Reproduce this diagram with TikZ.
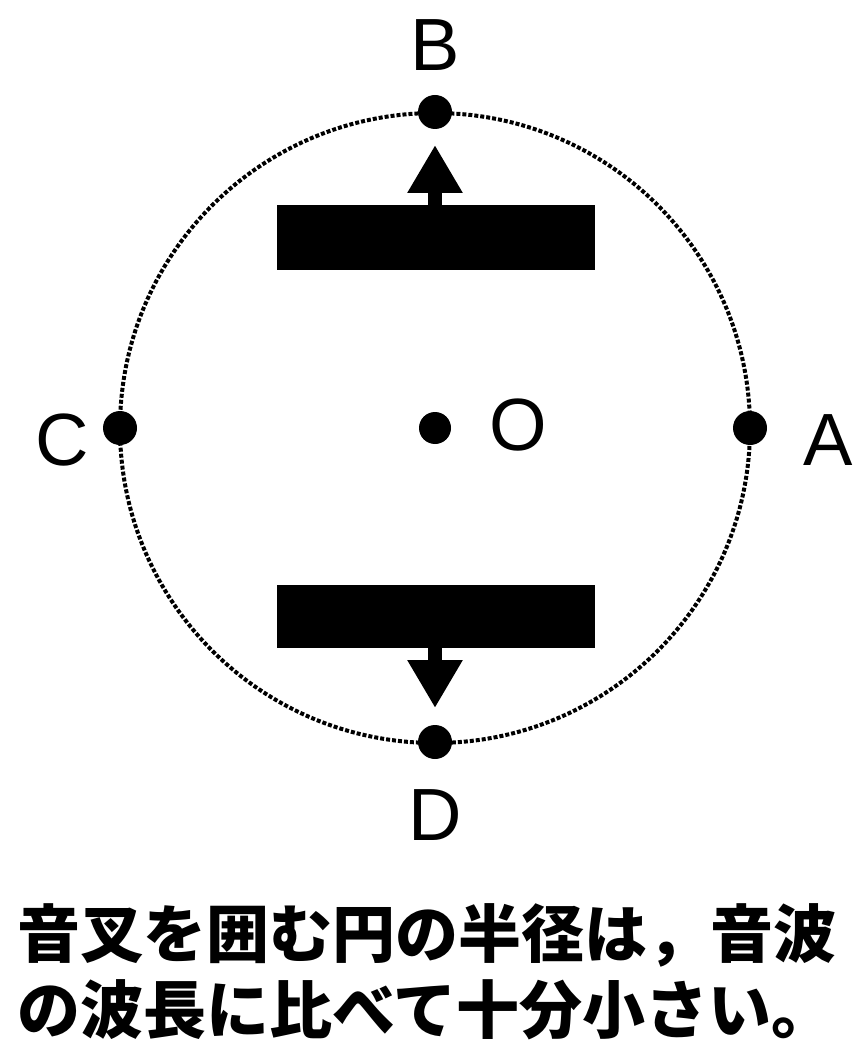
\documentclass[tikz,border=0pt]{standalone}
\usepackage{fontspec}
\setmainfont{Liberation Sans}
\newfontfamily\jpfont{Noto Sans CJK JP}
\usetikzlibrary{arrows.meta, positioning}
\tikzset{
  pt/.style={circle, fill=black, inner sep=0pt, minimum size=34pt},
  lbl/.style={font=\fontsize{74}{80}\selectfont},
  bar/.style={fill=black},
}
\begin{document}
\begin{tikzpicture}[x=1pt, y=-1pt]
\useasboundingbox (0,0) rectangle (864,1056);
% dotted circle
\draw[line width=4pt, dotted] (435,428) circle[radius=315];
% points
\node[pt] (B) at (435,112) {};
\node[pt] (D) at (435,742) {};
\node[pt] (A) at (750,428) {};
\node[pt] (C) at (120,428) {};
\node[pt, minimum size=32pt] (O) at (435,428) {};
% labels
\node[lbl] at (435,45) {B};
\node[lbl] at (435,815) {D};
\node[lbl] at (62,440) {C};
\node[lbl] at (828,440) {A};
\node[lbl] at (518,425) {O};
% bars
\fill[bar] (277,205) rectangle (595,270);
\fill[bar] (277,585) rectangle (595,648);
% arrows
\coordinate (t1) at (435,206);
\coordinate (t2) at (435,145);
\coordinate (b1) at (435,647);
\coordinate (b2) at (435,708);
\draw[line width=14pt, -{Triangle[width=52pt, length=48pt]}] (t1) -- (t2);
\draw[line width=14pt, -{Triangle[width=52pt, length=48pt]}] (b1) -- (b2);
% caption
\node[font=\jpfont\bfseries\fontsize{63}{76}\selectfont, align=left, anchor=north west] at (14,900)
  {音叉を囲む円の半径は，音波\\の波長に比べて十分小さい。};
\end{tikzpicture}
\end{document}
